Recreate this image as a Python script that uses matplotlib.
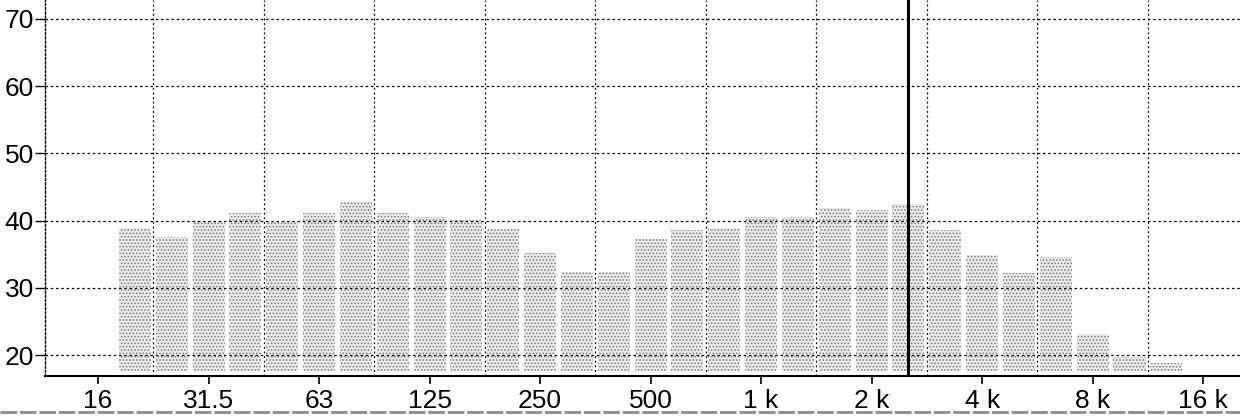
import numpy as np
import matplotlib
matplotlib.use("Agg")
import matplotlib.pyplot as plt
from matplotlib.lines import Line2D

plt.rcParams['font.family'] = ['Liberation Sans', 'DejaVu Sans']
plt.rcParams['hatch.linewidth'] = 0.75

# third-octave band names (nominal centre frequencies)
bands = ['16', '20', '25', '31.5', '40', '50', '63', '80', '100', '125', '160',
         '200', '250', '315', '400', '500', '630', '800', '1k', '1.25k', '1.6k',
         '2k', '2.5k', '3.15k', '4k', '5k', '6.3k', '8k', '10k', '12.5k', '16k']
# band levels in dB (None = no bar)
levels = [None, 38.9, 37.6, 39.9, 41.1, 39.8, 41.1, 42.8, 41.2, 40.5, 40.1,
          38.8, 35.2, 32.4, 32.3, 37.2, 38.6, 38.9, 40.6, 40.5, 41.9,
          41.6, 42.4, 38.6, 34.9, 32.2, 34.6, 23.1, 19.7, 18.8, None]
# octave ticks shown on the x axis
tick_bands = ['16', '31.5', '63', '125', '250', '500', '1k', '2k', '4k', '8k', '16k']
tick_labels = ['16', '31.5', '63', '125', '250', '500', '1 k', '2 k', '4 k', '8 k', '16 k']
y_ticks = [20, 30, 40, 50, 60, 70]
cursor_band = '2.5k'

fig = plt.figure(figsize=(12.4, 4.16), dpi=100)
W, H = 1240, 416
ax = fig.add_axes([45 / W, 40 / H, 1 - 45 / W, 376 / H])

XMIN, XMAX = -1.44, 31.0
pos = np.arange(len(bands))
vals = np.array([np.nan if v is None else v for v in levels], dtype=float)
base = 17.7
mask = ~np.isnan(vals)
ax.bar(pos[mask], vals[mask] - base, bottom=base, width=0.87,
       facecolor='#ebebeb', edgecolor='#7c7c7c', hatch='.....', linewidth=0, zorder=2)

tpos = [bands.index(b) for b in tick_bands]
ax.set_xticks(tpos)
ax.set_xticklabels(tick_labels)
ax.set_yticks(y_ticks)
ax.tick_params(axis='x', which='major', direction='out', length=6, width=1.2,
               labelsize=19, pad=3, color='black')
ax.tick_params(axis='y', direction='out', length=7, width=1, labelsize=19, pad=1)
ax.set_xlim(XMIN, XMAX)
ax.set_ylim(16.9, 72.8)

for y in y_ticks:
    ax.axhline(y, color='black', lw=0.9, ls=(0, (2, 2.2)), zorder=3)
for p in tpos:
    if p + 1.5 < XMAX:
        ax.axvline(p + 1.5, color='black', lw=0.9, ls=(0, (1.5, 2.2)), zorder=3)

ax.axvline(bands.index(cursor_band), color='black', lw=2.2, zorder=4)

for s in ['top', 'right']:
    ax.spines[s].set_visible(False)
ax.spines['left'].set_linestyle((0, (1.5, 1.5)))
ax.spines['left'].set_linewidth(1)
ax.spines['bottom'].set_linewidth(1.5)

fig.add_artist(Line2D([0, 1], [4 / H, 4 / H], transform=fig.transFigure,
                      color='#8c8c8c', lw=2, ls=(0, (6, 1))))

fig.savefig('out.png', dpi=100)
